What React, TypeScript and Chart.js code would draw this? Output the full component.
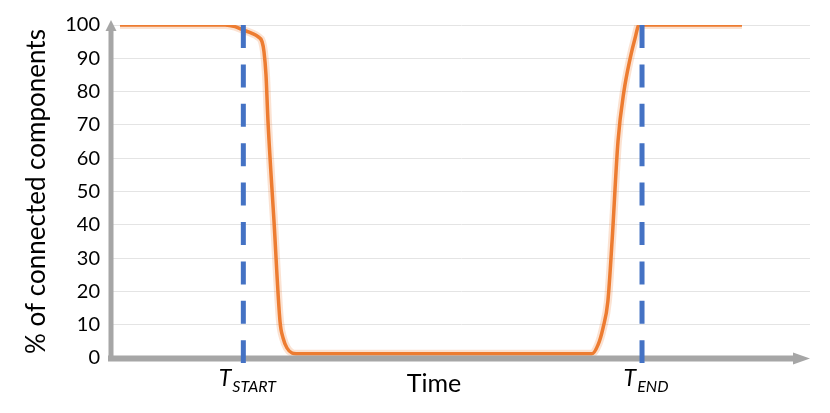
import React, { useEffect, useRef } from "react";
import { Chart, registerables } from "chart.js";

Chart.register(...registerables);

// Time axis (arbitrary units, 0..100) and % of connected components
const timeValues = [1, 16.07, 17.5, 18.65, 19.94, 20.8, 21.38, 21.66, 21.95, 22.24, 23.1, 23.96, 24.4, 24.96, 25.68, 26.26, 68.15, 68.72, 69.6, 70.3, 71.0, 71.6, 72.45, 73.3, 74.2, 74.9, 75.47, 90.24];
const connectedPct = [100, 100, 99.5, 98.5, 97.5, 96.5, 95, 92, 85, 71, 41, 11, 6, 3, 1.5, 1.3, 1.3, 1.3, 4, 9, 17, 35, 65, 80, 90, 96, 100, 100];

const markerTimes = [18.7, 75.9];
const markerMain = ["T", "T"];
const markerSub = ["START", "END"];

const yTitle = "% of connected components";
const xTitle = "Time";
const yMin = 0;
const yMax = 100;
const yStep = 10;
const xMin = 0;
const xMax = 100;

const FONT = "Lato, 'Open Sans', sans-serif";

const overlayPlugin = {
  id: "overlay",
  afterDatasetsDraw(chart: any) {
    const { ctx, chartArea, scales } = chart;
    const xs = scales.x;
    const ys = scales.y;
    const y0 = ys.getPixelForValue(0);
    const yTop = ys.getPixelForValue(100);
    const axisColor = "#A6A6A6";
    ctx.save();
    // y axis with arrow
    ctx.strokeStyle = axisColor;
    ctx.fillStyle = axisColor;
    ctx.lineWidth = 5;
    ctx.beginPath();
    ctx.moveTo(chartArea.left - 2, y0 + 2);
    ctx.lineTo(chartArea.left - 2, yTop + 4);
    ctx.stroke();
    ctx.beginPath();
    ctx.moveTo(chartArea.left - 2, yTop - 5);
    ctx.lineTo(chartArea.left - 7.5, yTop + 6);
    ctx.lineTo(chartArea.left + 3.5, yTop + 6);
    ctx.closePath();
    ctx.fill();
    // x axis with arrow
    ctx.lineWidth = 6;
    ctx.beginPath();
    ctx.moveTo(chartArea.left - 5, y0 + 0.5);
    ctx.lineTo(chartArea.right - 14, y0 + 0.5);
    ctx.stroke();
    ctx.beginPath();
    ctx.moveTo(chartArea.right, y0 + 0.5);
    ctx.lineTo(chartArea.right - 17, y0 - 5.5);
    ctx.lineTo(chartArea.right - 17, y0 + 6.5);
    ctx.closePath();
    ctx.fill();

    // dashed marker lines
    ctx.strokeStyle = "#4472C4";
    ctx.lineWidth = 5;
    ctx.setLineDash([23, 16.4]);
    markerTimes.forEach((t) => {
      const px = xs.getPixelForValue(t);
      ctx.beginPath();
      ctx.moveTo(px, yTop);
      ctx.lineTo(px, y0 + 5);
      ctx.stroke();
    });
    ctx.setLineDash([]);

    // marker labels
    ctx.fillStyle = "#000";
    ctx.textBaseline = "alphabetic";
    markerTimes.forEach((t, i) => {
      const px = xs.getPixelForValue(t);
      ctx.font = `italic 23px ${FONT}`;
      const wMain = ctx.measureText(markerMain[i]).width;
      ctx.font = `italic 16px ${FONT}`;
      const wSub = ctx.measureText(markerSub[i]).width;
      const total = wMain + wSub + 1;
      const start = px - total / 2 + 4;
      ctx.font = `italic 23px ${FONT}`;
      ctx.textAlign = "left";
      ctx.fillText(markerMain[i], start, 386);
      ctx.font = `italic 16px ${FONT}`;
      ctx.fillText(markerSub[i], start + wMain + 1, 392);
    });

    // x title
    ctx.font = `25px ${FONT}`;
    ctx.textAlign = "center";
    ctx.fillText(xTitle, 434, 392);
    ctx.restore();
  },
};

export default function App() {
  const canvasRef = useRef<HTMLCanvasElement | null>(null);

  useEffect(() => {
    if (!canvasRef.current) return;
    const points = timeValues.map((t, i) => ({ x: t, y: connectedPct[i] }));
    const chart = new Chart(canvasRef.current, {
      type: "line",
      data: {
        datasets: [
          {
            data: points,
            borderColor: "rgba(237,125,49,0.22)",
            borderWidth: 8,
            pointRadius: 0,
            cubicInterpolationMode: "monotone",
            fill: false,
          },
          {
            data: points,
            borderColor: "#ED7D31",
            borderWidth: 3.5,
            pointRadius: 0,
            cubicInterpolationMode: "monotone",
            fill: false,
          },
        ],
      },
      options: {
        animation: false,
        responsive: true,
        maintainAspectRatio: false,
        layout: { padding: { left: 10, top: 25, right: 20, bottom: 55 } },
        plugins: {
          legend: { display: false },
          tooltip: { enabled: false },
        },
        scales: {
          x: {
            type: "linear",
            min: xMin,
            max: xMax,
            display: false,
          },
          y: {
            min: yMin,
            max: yMax,
            afterFit: (scale: any) => {
              scale.width = 103;
            },
            ticks: {
              stepSize: yStep,
              color: "#000",
              padding: 13,
              font: { family: FONT, size: 20 },
            },
            grid: {
              color: (c: any) => (c.tick && c.tick.value === 0 ? "rgba(0,0,0,0)" : "#E4E4E4"),
              lineWidth: 1,
              drawTicks: false,
            },
            border: { display: false },
            title: {
              display: true,
              text: yTitle,
              color: "#000",
              font: { family: FONT, size: 26 },
              padding: { top: 11, bottom: 0 },
            },
          },
        },
      },
      plugins: [overlayPlugin],
    });
    return () => chart.destroy();
  }, []);

  return (
    <div style={{ position: "fixed", left: 0, top: 0, width: 830, height: 413, background: "#fff" }}>
      <canvas ref={canvasRef} />
    </div>
  );
}
